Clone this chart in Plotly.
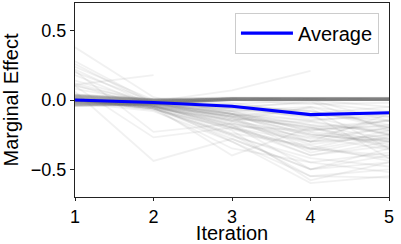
import plotly.graph_objects as go

nan = None
iterations = [1, 2, 3, 4, 5]

# Near-zero trajectories forming the dark band around 0
band_series = [
    [0.040, 0.010, 0.018, 0.016, 0.017], [0.037, 0.008, 0.016, 0.015, 0.016],
    [0.034, 0.007, 0.015, 0.014, 0.015], [0.031, 0.005, 0.014, 0.013, 0.014],
    [0.028, 0.004, 0.013, 0.012, 0.013], [0.025, 0.002, 0.012, 0.011, 0.012],
    [0.022, 0.001, 0.011, 0.010, 0.011], [0.019, -0.001, 0.010, 0.009, 0.010],
    [0.016, -0.002, 0.009, 0.008, 0.009], [0.013, -0.004, 0.008, 0.007, 0.008],
    [0.010, -0.005, 0.007, 0.006, 0.007], [0.007, -0.007, 0.006, 0.005, 0.006],
    [0.004, -0.008, 0.005, 0.004, 0.005], [0.001, -0.010, 0.004, 0.003, 0.004],
    [-0.002, -0.011, 0.003, 0.002, 0.003], [-0.005, -0.013, 0.002, 0.001, 0.002],
    [-0.008, -0.014, 0.001, 0.000, 0.001], [-0.011, -0.016, 0.000, 0.000, 0.000],
    [-0.014, -0.017, 0.000, 0.000, 0.000], [-0.017, -0.019, 0.001, 0.001, 0.001],
    [-0.020, -0.020, 0.002, 0.002, 0.002], [-0.023, -0.022, 0.003, 0.003, 0.003],
    [-0.026, -0.023, 0.004, 0.004, 0.004], [-0.029, -0.025, 0.005, 0.005, 0.005],
    [-0.032, -0.026, 0.006, 0.006, 0.006], [-0.035, -0.028, 0.007, 0.007, 0.007],
    [-0.038, -0.029, 0.008, 0.008, 0.008], [-0.041, -0.031, 0.009, 0.009, 0.009],
    [-0.044, -0.032, 0.010, 0.010, 0.010],
    [0.038, 0.006, 0.000, 0.001, 0.002], [0.035, 0.004, 0.001, 0.000, 0.001],
    [0.032, 0.003, 0.002, 0.001, 0.000], [0.029, 0.001, 0.003, 0.002, 0.001],
    [0.026, 0.000, 0.004, 0.003, 0.002], [0.023, -0.002, 0.005, 0.004, 0.003],
    [0.020, -0.003, 0.006, 0.005, 0.004], [0.017, -0.005, 0.007, 0.006, 0.005],
    [0.014, -0.006, 0.008, 0.007, 0.006], [0.011, -0.008, 0.009, 0.008, 0.007],
    [0.008, -0.009, 0.010, 0.009, 0.008], [0.005, -0.011, 0.011, 0.010, 0.009],
    [0.002, -0.012, 0.012, 0.011, 0.010], [-0.001, -0.014, 0.013, 0.012, 0.011],
    [-0.004, -0.015, 0.014, 0.013, 0.012], [-0.007, -0.017, 0.015, 0.014, 0.013],
    [-0.010, -0.018, 0.016, 0.015, 0.014], [-0.013, -0.020, 0.000, 0.000, 0.000],
    [-0.016, -0.021, 0.001, 0.000, 0.000], [-0.019, -0.023, 0.000, 0.001, 0.000],
    [-0.022, -0.024, 0.002, 0.000, 0.001], [-0.025, -0.026, 0.000, 0.002, 0.000],
    [-0.028, -0.027, 0.001, 0.001, 0.002], [-0.031, -0.029, 0.000, 0.000, 0.001],
    [-0.034, -0.030, 0.002, 0.001, 0.000], [-0.037, -0.032, 0.001, 0.002, 0.001],
    [-0.040, -0.034, 0.000, 0.001, 0.002], [-0.043, -0.035, 0.003, 0.000, 0.001],
]

# Other individual trajectories
individual_series = [
    [0.38, 0.02, -0.10, -0.25, -0.30],
    [0.28, -0.02, -0.15, -0.30, -0.20],
    [0.26, -0.03, -0.12, -0.20, -0.35],
    [0.24, 0.00, -0.08, -0.15, -0.25],
    [0.22, -0.04, -0.20, -0.35, -0.40],
    [0.21, -0.23, -0.17, -0.30, -0.25],
    [0.20, -0.01, -0.05, -0.10, -0.15],
    [0.18, -0.05, -0.18, -0.40, -0.30],
    [0.14, -0.02, -0.10, -0.22, -0.18],
    [0.11, 0.18, nan, nan, nan],
    [0.11, -0.06, -0.25, -0.45, -0.38],
    [0.10, -0.27, -0.20, -0.35, -0.42],
    [0.06, -0.44, -0.28, -0.50, -0.45],
    [0.12, -0.03, -0.06, -0.12, -0.10],
    [0.10, -0.01, -0.04, -0.08, -0.20],
    [0.08, -0.02, -0.10, -0.18, -0.22],
    [0.00, -0.03, -0.10, -0.20, -0.15],
    [0.00, -0.05, -0.15, -0.25, -0.30],
    [-0.01, -0.04, -0.20, -0.30, -0.28],
    [0.00, -0.02, -0.12, -0.35, -0.22],
    [0.00, -0.06, -0.25, -0.55, -0.50],
    [-0.02, -0.08, -0.30, -0.60, -0.55],
    [0.00, -0.04, -0.22, -0.58, -0.45],
    [0.00, -0.03, -0.18, -0.50, -0.35],
    [-0.01, -0.07, -0.35, -0.45, -0.52],
    [0.00, -0.05, -0.40, -0.20, -0.30],
    [0.00, -0.02, -0.08, -0.05, -0.12],
    [0.00, -0.01, -0.05, -0.02, -0.08],
    [0.00, -0.02, -0.03, 0.00, -0.15],
    [0.00, -0.03, -0.06, -0.10, -0.05],
    [0.00, -0.04, -0.10, -0.15, -0.10],
    [0.00, -0.01, 0.07, 0.21, nan],
    [0.00, -0.06, -0.14, -0.28, -0.20],
    [0.00, -0.05, -0.16, -0.32, -0.25],
    [0.00, -0.04, -0.12, -0.24, -0.32],
    [0.00, -0.03, -0.09, -0.18, -0.28],
    [0.00, -0.07, -0.20, -0.40, -0.33],
    [0.00, -0.02, -0.05, -0.08, -0.18],
    [0.00, -0.03, -0.07, -0.12, -0.25],
    [0.00, -0.06, -0.28, -0.50, -0.40],
    [0.00, -0.04, -0.15, -0.05, -0.20],
    [0.00, -0.02, -0.10, -0.30, -0.10],
    [0.00, -0.05, -0.12, -0.06, -0.35],
    [0.00, -0.03, -0.02, -0.10, -0.42],
    [0.00, -0.01, 0.01, 0.00, -0.05],
    [0.00, -0.02, 0.00, -0.03, -0.02],
    [0.00, -0.03, -0.04, -0.14, -0.12],
    [0.00, -0.06, -0.26, -0.42, -0.48],
    [0.00, -0.04, -0.19, -0.22, -0.15],
    [0.00, -0.05, -0.11, -0.26, -0.36],
    [0.00, -0.04, -0.30, -0.55, -0.56],
    [0.00, -0.03, -0.13, -0.38, -0.27],
    [0.00, -0.05, -0.24, -0.33, -0.44],
    [0.00, -0.02, -0.06, -0.01, -0.22],
    [-0.01, -0.04, -0.14, -0.16, -0.24],
    [0.01, -0.03, -0.11, -0.21, -0.19],
    [-0.02, -0.05, -0.17, -0.27, -0.14],
    [0.00, -0.04, -0.08, -0.23, -0.29],
    [0.01, -0.02, -0.13, -0.19, -0.34],
    [-0.01, -0.06, -0.21, -0.36, -0.26],
]

average_values = [0.0, -0.018, -0.045, -0.105, -0.092]

y_tick_values = [-0.5, 0.0, 0.5]
y_tick_labels = ["\u22120.5", "0.0", "0.5"]
x_tick_values = [1, 2, 3, 4, 5]
x_tick_labels = ["1", "2", "3", "4", "5"]

fig = go.Figure()
for s in band_series + individual_series:
    fig.add_trace(go.Scatter(
        x=iterations, y=s, mode="lines",
        line=dict(color="rgba(128,128,128,0.11)", width=1.8),
        showlegend=False, hoverinfo="skip",
    ))

fig.add_trace(go.Scatter(
    x=iterations, y=average_values, mode="lines", name="Average",
    line=dict(color="#0000ff", width=3.2),
))

FONT = "Liberation Sans, Arial, sans-serif"
fig.update_layout(
    width=401, height=244,
    margin=dict(l=75, r=12, t=3, b=47),
    paper_bgcolor="white", plot_bgcolor="white",
    font=dict(family=FONT, size=18, color="black"),
    legend=dict(
        x=0.968, y=0.95, xanchor="right", yanchor="top",
        bgcolor="rgba(255,255,255,0.85)", bordercolor="#cccccc", borderwidth=1,
        font=dict(size=20, family=FONT),
        itemwidth=52,
    ),
    xaxis=dict(
        range=[1, 5], tickvals=x_tick_values, ticktext=x_tick_labels,
        showline=True, linecolor="#222", linewidth=1, mirror=True,
        ticks="outside", ticklen=3, tickcolor="#222",
        showgrid=False, zeroline=False, automargin=False,
        title=dict(text="Iteration", font=dict(size=20), standoff=2),
        tickfont=dict(size=18),
    ),
    yaxis=dict(
        range=[-0.7, 0.7], tickvals=y_tick_values, ticktext=y_tick_labels,
        showline=True, linecolor="#222", linewidth=1, mirror=True,
        ticks="outside", ticklen=4, tickcolor="#222",
        showgrid=False, zeroline=False, automargin=False,
        title=dict(text="Marginal Effect", font=dict(size=20), standoff=6),
        tickfont=dict(size=18),
    ),
)

fig.write_html(
    "out.html",
    config={"displayModeBar": False},
    post_script="document.body.style.margin='0';document.body.style.overflow='hidden';",
)
